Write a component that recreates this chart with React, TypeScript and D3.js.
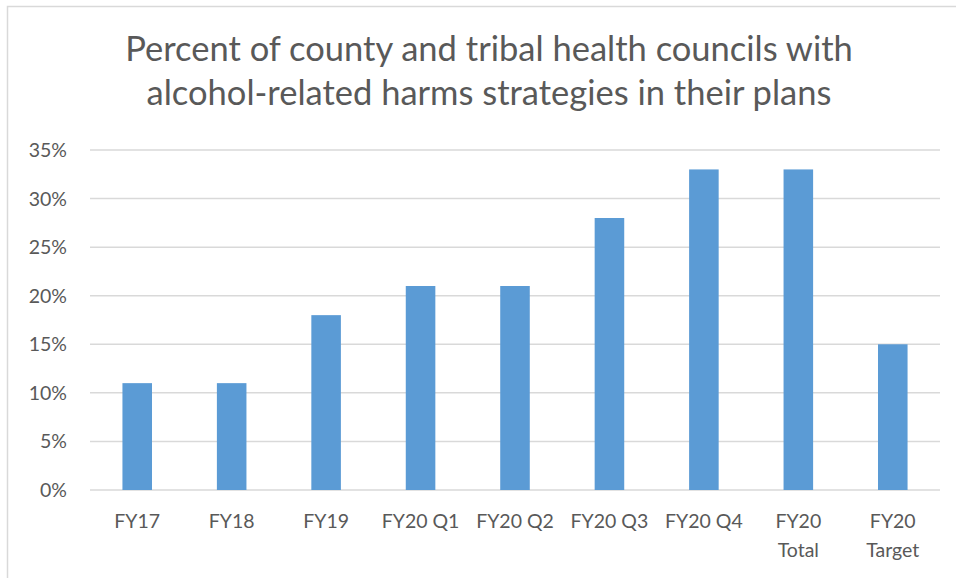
import * as d3 from "d3";
import { useEffect, useRef } from "react";

const categories = [
  ["FY17"],
  ["FY18"],
  ["FY19"],
  ["FY20 Q1"],
  ["FY20 Q2"],
  ["FY20 Q3"],
  ["FY20 Q4"],
  ["FY20", "Total"],
  ["FY20", "Target"],
];
const values = [0.11, 0.11, 0.18, 0.21, 0.21, 0.28, 0.33, 0.33, 0.15];
const yTicks = [0, 0.05, 0.1, 0.15, 0.2, 0.25, 0.3, 0.35];
const titleLines = [
  "Percent of county and tribal health councils with",
  "alcohol-related harms strategies in their plans",
];

const W = 956;
const H = 578;
const FONT = "Lato, 'Open Sans', sans-serif";
const TEXT = "#595959";

export default function App() {
  const svgRef = useRef<SVGSVGElement>(null);

  useEffect(() => {
    if (!svgRef.current) return;
    const svg = d3.select(svgRef.current);
    svg.selectAll("*").remove();

    const left = 90;
    const right = 940;
    const top = 150;
    const bottom = 490;

    // chart border
    svg
      .append("rect")
      .attr("x", 7.5)
      .attr("y", 6.5)
      .attr("width", W + 10)
      .attr("height", H + 10)
      .attr("fill", "#fff")
      .attr("stroke", "#d9d9d9")
      .attr("stroke-width", 1.5);

    // title
    svg
      .append("g")
      .selectAll("text")
      .data(titleLines)
      .join("text")
      .attr("x", 489)
      .attr("y", (_, i) => 61 + i * 44)
      .attr("text-anchor", "middle")
      .attr("font-family", FONT)
      .attr("font-size", 34.5)
      .attr("fill", TEXT)
      .text((d) => d);

    const x = d3
      .scaleBand<number>()
      .domain(d3.range(categories.length))
      .range([left, right])
      .paddingInner(0.687)
      .paddingOuter(0.3435);

    const y = d3.scaleLinear().domain([0, 0.35]).range([bottom, top]);

    // gridlines
    svg
      .append("g")
      .selectAll("line")
      .data(yTicks)
      .join("line")
      .attr("x1", left)
      .attr("x2", right)
      .attr("y1", (d) => y(d))
      .attr("y2", (d) => y(d))
      .attr("stroke", "#d9d9d9")
      .attr("stroke-width", 1.5);

    // y labels
    svg
      .append("g")
      .selectAll("text")
      .data(yTicks)
      .join("text")
      .attr("x", 67)
      .attr("y", (d) => y(d))
      .attr("dy", "0.36em")
      .attr("text-anchor", "end")
      .attr("font-family", FONT)
      .attr("font-size", 19.5)
      .attr("fill", TEXT)
      .text((d) => `${Math.round(d * 100)}%`);

    // bars
    svg
      .append("g")
      .selectAll("rect")
      .data(values)
      .join("rect")
      .attr("x", (_, i) => x(i)!)
      .attr("width", x.bandwidth())
      .attr("y", (d) => y(d))
      .attr("height", (d) => bottom - y(d))
      .attr("fill", "#5b9bd5");

    // x labels
    const xl = svg
      .append("g")
      .selectAll("text")
      .data(categories)
      .join("text")
      .attr("x", (_, i) => x(i)! + x.bandwidth() / 2)
      .attr("y", 528)
      .attr("text-anchor", "middle")
      .attr("font-family", FONT)
      .attr("font-size", 19.5)
      .attr("fill", TEXT);
    xl.each(function (d) {
      const t = d3.select(this);
      const cx = t.attr("x");
      d.forEach((line, j) => {
        t.append("tspan")
          .attr("x", cx)
          .attr("dy", j === 0 ? 0 : 29)
          .text(line);
      });
    });
  }, []);

  return (
    <svg
      ref={svgRef}
      width={W}
      height={H}
      viewBox={`0 0 ${W} ${H}`}
      style={{ position: "absolute", left: 0, top: 0, background: "#fff" }}
    />
  );
}
